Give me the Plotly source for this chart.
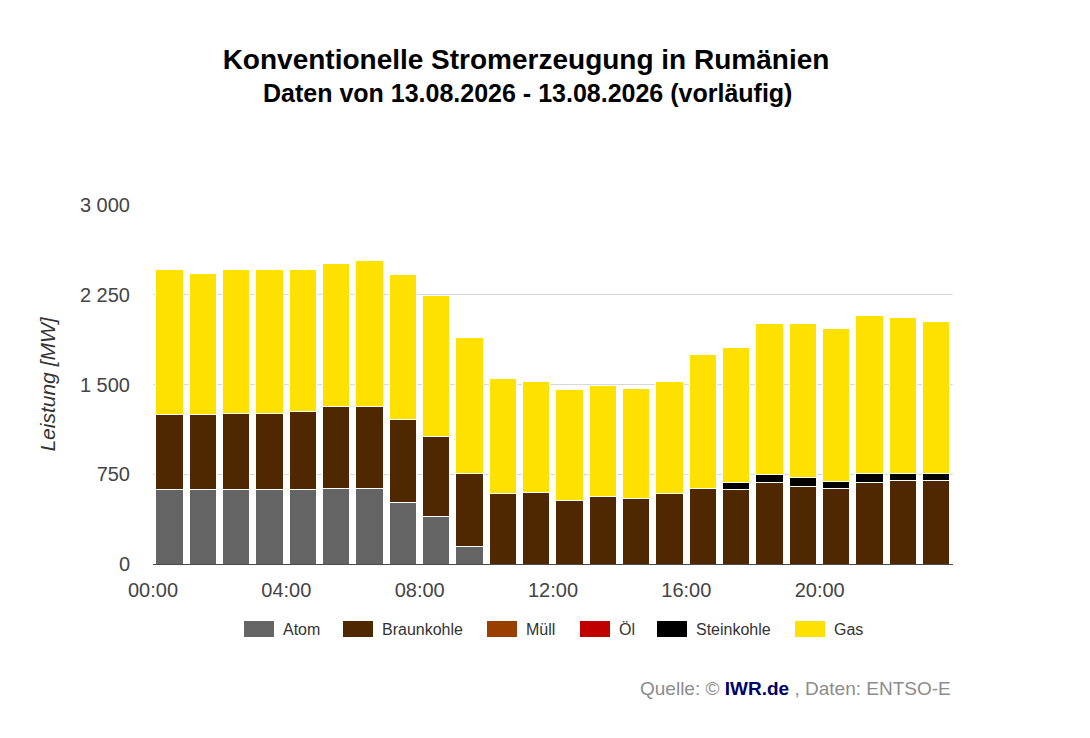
import plotly.graph_objects as go

# Stundenwerte 13.08.2026, Leistung in MW
hours = list(range(24))
tick_hours = [0, 4, 8, 12, 16, 20]
tick_labels = ["00:00", "04:00", "08:00", "12:00", "16:00", "20:00"]

atom = [621, 621, 621, 621, 621, 632, 632, 512, 395, 145, 0, 0,
        0, 0, 0, 0, 0, 0, 0, 0, 0, 0, 0, 0]
braunkohle = [631, 626, 640, 640, 654, 682, 682, 696, 668, 615, 587, 600,
              534, 562, 548, 587, 632, 621, 682, 646, 632, 682, 696, 696]
muell = [0] * 24
oel = [0] * 24
steinkohle = [0, 0, 0, 0, 0, 0, 0, 0, 0, 0, 0, 0,
              0, 0, 0, 0, 0, 61, 67, 75, 61, 78, 64, 64]
gas = [1205, 1183, 1196, 1196, 1182, 1196, 1221, 1208, 1183, 1130, 960, 921,
       922, 932, 919, 935, 1116, 1130, 1260, 1288, 1277, 1313, 1302, 1263]

series = [
    ("Atom", atom, "#646464"),
    ("Braunkohle", braunkohle, "#4f2700"),
    ("Müll", muell, "#994000"),
    ("Öl", oel, "#c00000"),
    ("Steinkohle", steinkohle, "#000000"),
    ("Gas", gas, "#ffe100"),
]

font = "Liberation Sans, Arial, sans-serif"

W, H = 1090, 738
S = 8  # the page body adds an 8px margin, so aim 8px up/left
L, R, T, B = 153 - S, 953 - S, 205 - S, 564 - S
def px(x):
    return (x - S - L) / (R - L)
def py(y):
    return (B - (y - S)) / (B - T)

fig = go.Figure()
for name, vals, color in series:
    fig.add_trace(go.Bar(
        x=hours, y=vals, name=name,
        width=0.82, offset=0.08,
        marker=dict(color=color, line=dict(color="white", width=1)),
        showlegend=False,
    ))

fig.update_layout(
    barmode="stack",
    width=W, height=H,
    margin=dict(l=L, r=W - R, t=T, b=H - B, autoexpand=False),
    paper_bgcolor="white", plot_bgcolor="white",
    font=dict(family=font, color="#333333"),
    separators=", ",
    title=dict(text="<b>Konventionelle Stromerzeugung in Rumänien</b>",
               x=(526 - S) / W, xanchor="center", y=1 - (59 - S) / H, yanchor="middle",
               font=dict(size=28, color="black", family=font)),
)

fig.add_annotation(text="<b>Daten von 13.08.2026 - 13.08.2026 (vorläufig)</b>",
                   xref="paper", yref="paper", x=px(527), y=py(93),
                   xanchor="center", yanchor="middle", showarrow=False,
                   font=dict(size=25, color="black", family=font))

fig.add_annotation(text="Quelle: © <b><span style='color:#000066'>IWR.de</span></b> , Daten: ENTSO-E",
                   xref="paper", yref="paper", x=1, y=py(688),
                   xanchor="right", yanchor="middle", showarrow=False,
                   font=dict(size=19, color="#8c8c8c", family=font))

# legend like the original: wide colour boxes followed by the name
legend_x = [244, 343, 487, 580, 657, 795]
for (name, vals, color), lx in zip(series, legend_x):
    fig.add_shape(type="rect", xref="paper", yref="paper",
                  x0=px(lx), x1=px(lx + 30), y0=py(637), y1=py(621),
                  fillcolor=color, line=dict(width=0))
    fig.add_annotation(text=name, xref="paper", yref="paper",
                       x=px(lx + 37), y=py(629), xanchor="left", yanchor="middle",
                       showarrow=False, font=dict(size=16, color="#333333", family=font))

fig.update_xaxes(range=[0, 24], tickvals=tick_hours, ticktext=tick_labels,
                 showgrid=False, showline=True, linecolor="#4a4a4a", linewidth=1,
                 ticks="", tickfont=dict(size=20, color="#444444"),
                 ticklabelstandoff=8, zeroline=False)
fig.update_yaxes(range=[0, 3000], tickvals=[0, 750, 1500, 2250, 3000], tickformat=",",
                 showgrid=True, gridcolor="#d8d8d8", gridwidth=1, zeroline=False,
                 tickfont=dict(size=20, color="#444444"), ticklabelstandoff=22,
                 title=dict(text="<i>Leistung [MW]</i>", font=dict(size=21, color="#333333"),
                            standoff=18))

fig.write_html("out.html")
